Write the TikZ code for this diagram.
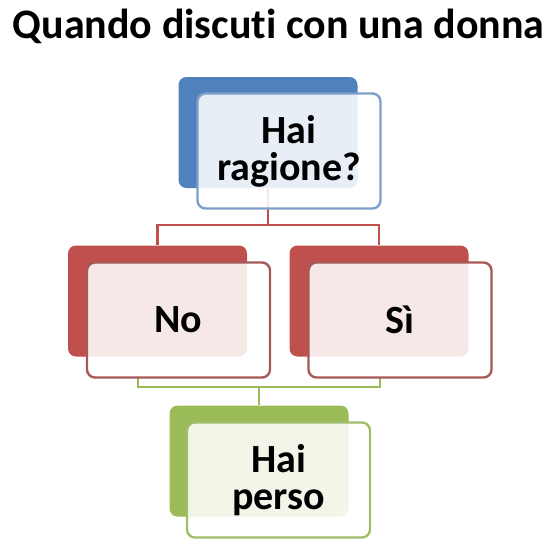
\documentclass[tikz,border=0pt]{standalone}
\usepackage{fontspec}
\setmainfont{Carlito}[Ligatures=NoCommon]
\definecolor{bblue}{HTML}{4F81BD}
\definecolor{fblue}{HTML}{7EA0C8}
\definecolor{bred}{HTML}{C0504D}
\definecolor{fred}{HTML}{A65A58}
\definecolor{bgreen}{HTML}{9BBB59}
\definecolor{fgreen}{HTML}{A3BD6E}
\tikzset{
  backbox/.style={rounded corners=8pt, minimum width=179pt, minimum height=111pt, inner sep=0pt, fill=#1},
  frontbox/.style={rounded corners=8pt, minimum width=183pt, minimum height=115pt, inner sep=0pt, draw=#1, line width=2.4pt, fill=white, fill opacity=0.87, text opacity=1, align=center, font=\bfseries\fontsize{40}{37}\selectfont},
  conn/.style={line width=2.2pt, draw=#1},
}
\begin{document}
\begin{tikzpicture}[x=1pt,y=-1pt]
\useasboundingbox (0,0) rectangle (558,550);
\node[font=\bfseries\fontsize{42}{44}\selectfont, anchor=base, inner sep=0pt] (title) at (278.5,38) {Quando discuti con una donna};
% connectors
\coordinate (tj) at (268,225);
\coordinate (gl) at (138,378);
\coordinate (gr) at (380,378);
\coordinate (gj) at (259,387);
\node[backbox=bblue] (tb) at (268,132.5) {};
\node[backbox=bred] (lb) at (157.5,301) {};
\node[backbox=bred] (rb) at (379,301) {};
\node[backbox=bgreen] (bb) at (259,461) {};
\draw[conn=bred] (tb.south) -- (tj) -| (lb.north);
\draw[conn=bred] (tj) -| (rb.north);
\draw[conn=bgreen] (gl) |- (gj) -| (gr);
\draw[conn=bgreen] (gj) -- (bb.north);
\node[frontbox=fblue] (tf) at (289,151) {Hai\\ragione?};
\node[frontbox=fred] (lf) at (178.5,320) {No};
\node[frontbox=fred] (rf) at (400,320) {Sì};
\node[frontbox=fgreen] (bf) at (278.5,480) {Hai\\perso};
\end{tikzpicture}
\end{document}
